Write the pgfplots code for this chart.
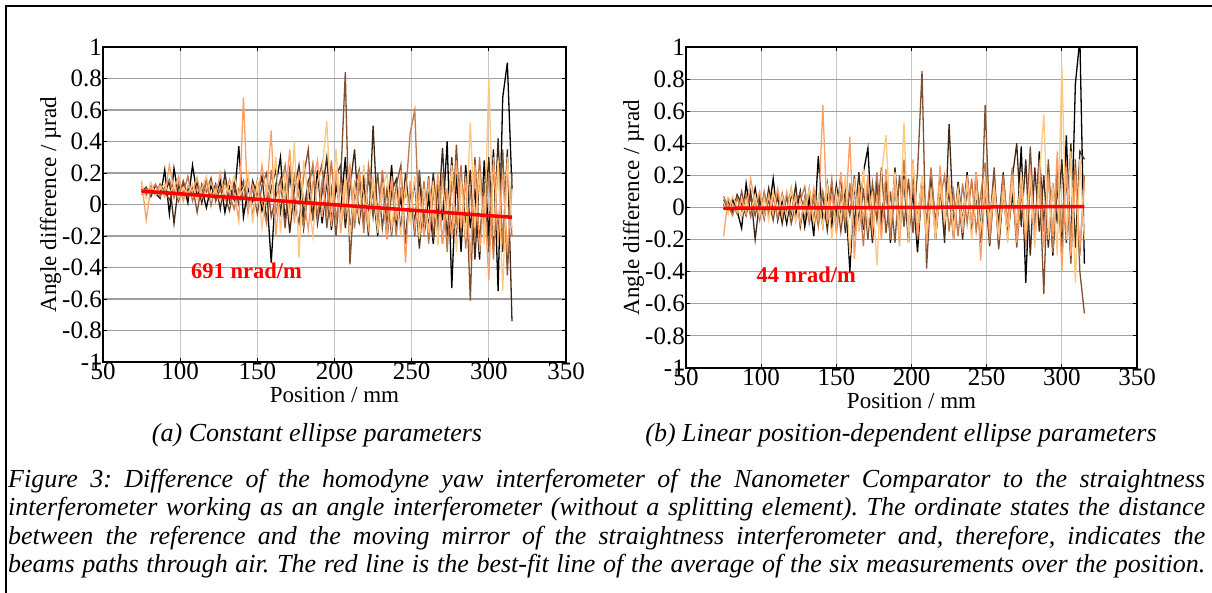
\documentclass[border=0pt]{standalone}
\usepackage{fontspec}
\setmainfont{Liberation Serif}
\usepackage{pgfplots}
\pgfplotsset{compat=1.18}
\usepackage{pgfplotstable}

\definecolor{cA}{rgb}{0,0,0}
\definecolor{cB}{rgb}{0.25,0.156,0.100}
\definecolor{cC}{rgb}{0.50,0.3125,0.199}
\definecolor{cD}{rgb}{0.75,0.469,0.2985}
\definecolor{cE}{rgb}{1,0.625,0.398}
\definecolor{cF}{rgb}{1,0.781,0.4975}

% panel (a): constant ellipse parameters
\pgfplotstableread{
x a b c d e f
75 0.10 0.08 0.12 0.06 0.15 0.13
78 0.06 0.11 0.07 0.10 -0.10 0.04
81 0.12 0.05 0.10 0.08 0.11 0.14
84 0.07 0.12 0.06 0.13 0.08 0.06
87 0.04 0.09 0.13 0.05 0.12 0.10
90 0.22 0.06 0.08 0.11 0.05 0.13
93 -0.06 0.15 0.03 0.16 0.25 0.07
96 0.23 -0.12 0.10 0.04 0.09 0.12
99 0.05 0.13 0.02 0.14 0.18 0.04
102 0.14 0.03 0.15 0.07 0.02 0.11
105 0.01 0.10 0.05 0.18 0.12 0.06
108 0.25 0.07 0.12 0.02 0.08 0.13
111 0.06 0.14 -0.05 0.11 0.17 0.03
114 0.10 0.01 0.13 0.06 0.04 0.10
117 -0.02 0.16 0.08 0.15 0.10 0.18
120 0.12 0.05 0.17 -0.01 0.14 0.05
123 0.04 0.13 0.02 0.12 0.06 0.09
126 0.15 -0.03 0.10 0.08 0.20 0.02
129 -0.05 0.20 0.05 0.14 0.03 0.11
132 0.11 0.02 -0.04 0.06 0.16 0.08
135 0.03 0.14 0.12 -0.03 0.07 0.18
138 0.37 0.00 0.06 0.10 -0.10 0.05
141 -0.08 0.12 0.15 0.04 0.68 0.10
144 0.10 -0.04 0.02 0.18 -0.05 0.20
147 0.02 0.15 0.10 -0.08 0.12 -0.12
150 0.15 0.05 -0.06 0.14 0.02 0.16
153 -0.04 0.18 0.12 0.02 0.25 -0.15
156 0.08 -0.10 0.20 -0.12 0.06 0.12
159 -0.37 0.10 -0.08 0.22 0.47 0.04
162 0.12 0.22 0.05 -0.06 -0.20 0.30
165 0.30 -0.05 0.16 0.10 0.12 -0.18
168 -0.12 0.14 -0.15 0.25 0.03 0.20
171 0.20 -0.18 0.22 -0.04 0.35 -0.10
174 -0.05 0.10 0.02 0.18 -0.12 0.40
177 0.16 0.25 -0.12 0.05 0.20 -0.34
180 -0.15 -0.06 0.18 -0.14 0.05 0.28
183 0.10 0.15 0.35 0.08 -0.16 0.05
186 -0.08 0.22 -0.10 0.26 0.14 -0.20
189 0.22 -0.12 0.14 -0.08 0.28 0.15
192 -0.12 0.08 0.26 0.15 -0.08 0.22
195 0.15 0.30 -0.15 -0.05 0.18 0.53
198 -0.16 -0.10 0.10 0.28 -0.14 -0.05
201 0.12 0.18 -0.20 -0.10 0.22 0.35
204 -0.04 0.25 0.15 0.12 -0.18 -0.12
207 0.30 -0.15 0.84 -0.06 0.10 0.18
210 -0.18 0.10 -0.38 0.20 0.25 -0.20
213 0.12 0.35 0.10 -0.15 -0.10 0.12
216 -0.10 -0.12 0.22 0.14 0.20 -0.08
219 0.20 0.15 -0.12 -0.18 0.06 0.25
222 -0.06 -0.20 0.18 0.25 -0.15 -0.10
225 0.08 0.50 -0.08 0.05 0.16 0.15
228 -0.20 -0.10 0.20 -0.12 -0.05 -0.18
231 0.14 0.12 -0.15 0.22 0.12 0.10
234 -0.10 -0.22 0.10 -0.08 -0.22 0.20
237 0.25 0.08 -0.20 0.15 0.18 -0.15
240 -0.15 0.16 0.12 -0.20 -0.10 0.08
243 0.05 -0.18 0.25 0.10 0.22 -0.20
246 -0.22 0.20 -0.25 0.05 -0.37 0.12
249 0.10 -0.08 0.10 0.45 0.15 -0.10
252 -0.12 0.15 -0.20 0.60 -0.15 0.18
255 0.18 -0.28 0.22 -0.20 0.08 -0.22
258 -0.20 0.10 -0.12 0.15 -0.20 0.10
261 0.05 -0.15 0.18 -0.25 0.16 -0.18
264 -0.25 0.20 -0.22 0.08 -0.12 0.15
267 0.12 -0.10 0.15 -0.15 0.20 -0.26
270 -0.10 0.36 -0.25 0.20 -0.25 0.12
273 0.40 -0.20 0.10 -0.30 0.10 -0.10
276 -0.53 0.30 -0.18 0.15 -0.22 0.25
279 0.20 -0.25 0.38 -0.10 0.28 -0.30
282 -0.30 0.15 -0.20 0.25 -0.15 0.15
285 0.25 -0.12 0.20 -0.28 0.18 -0.22
288 -0.15 0.22 -0.61 0.10 -0.35 0.52
291 0.10 -0.35 0.30 -0.20 0.25 -0.15
294 -0.35 0.20 -0.25 0.30 -0.30 0.20
297 0.28 -0.10 0.15 -0.15 0.05 -0.25
300 -0.20 0.30 -0.30 0.20 -0.48 0.80
303 0.35 -0.25 0.25 -0.35 0.30 -0.20
306 -0.55 0.42 -0.20 0.30 -0.25 0.28
309 0.68 -0.30 0.35 -0.25 0.20 -0.55
312 0.90 0.35 -0.45 0.25 -0.30 0.30
315 0.10 -0.74 0.20 -0.20 0.10 -0.15
}\tabA

% panel (b): linear position-dependent ellipse parameters
\pgfplotstableread{
x a b c d e f
75 0.02 -0.01 0.05 0.07 -0.18 0.03
78 -0.03 0.04 -0.02 0.01 0.06 -0.04
81 0.05 -0.03 0.03 -0.05 0.02 0.07
84 -0.02 0.08 -0.04 0.06 -0.03 0.01
87 -0.13 0.02 0.10 -0.02 0.05 -0.06
90 0.15 -0.05 -0.03 0.08 -0.04 0.04
93 -0.04 0.10 0.06 -0.06 0.18 -0.02
96 0.12 -0.20 -0.05 0.04 0.02 0.08
99 -0.06 0.05 0.08 -0.08 0.10 -0.05
102 0.08 -0.07 -0.02 0.10 -0.06 0.06
105 -0.03 0.12 0.04 -0.04 0.08 -0.08
108 0.18 -0.02 -0.08 0.06 -0.03 0.10
111 -0.08 0.06 0.10 -0.07 0.12 -0.03
114 0.05 -0.10 -0.04 0.09 -0.05 0.07
117 -0.10 0.08 0.07 -0.03 0.10 -0.06
120 0.09 -0.04 -0.10 0.12 -0.02 0.11
123 -0.05 0.14 0.03 -0.08 0.07 -0.09
126 0.10 -0.12 0.09 0.04 -0.10 0.05
129 -0.12 0.06 -0.06 0.13 0.05 -0.04
132 0.06 -0.08 0.12 -0.10 -0.06 0.12
135 -0.18 0.10 -0.08 0.05 0.12 -0.10
138 0.32 -0.06 0.05 -0.12 -0.08 0.07
141 -0.10 0.08 -0.12 0.10 0.64 -0.12
144 0.08 -0.14 0.15 -0.05 -0.10 0.15
147 -0.12 0.12 -0.06 0.18 0.08 -0.20
150 0.14 -0.04 0.10 -0.16 -0.14 0.10
153 -0.06 0.20 -0.15 0.08 0.22 -0.08
156 0.10 -0.16 0.08 -0.10 -0.06 0.20
159 -0.40 0.12 -0.05 0.15 0.44 -0.30
162 0.15 -0.10 0.20 -0.18 -0.32 0.18
165 -0.10 0.22 -0.14 0.08 0.14 -0.15
168 0.22 -0.14 0.12 -0.24 -0.08 0.25
171 0.37 0.10 -0.20 0.16 0.20 -0.12
174 -0.18 -0.22 0.15 -0.06 -0.15 0.10
177 0.12 0.18 -0.08 0.22 0.08 -0.36
180 -0.10 -0.06 0.25 -0.15 -0.20 0.20
183 0.18 0.14 -0.16 0.10 0.24 0.45
186 -0.22 -0.18 0.10 -0.20 -0.10 -0.10
189 0.15 0.25 -0.22 0.18 0.12 0.22
192 -0.08 -0.10 0.20 -0.10 -0.24 -0.18
195 0.20 0.16 -0.12 0.30 0.18 0.53
198 -0.16 -0.22 0.18 -0.14 -0.12 -0.22
201 0.10 0.20 -0.16 0.15 0.30 0.28
204 -0.28 -0.08 0.22 -0.20 -0.18 -0.10
207 0.15 0.18 0.85 0.10 0.12 0.20
210 -0.12 -0.14 -0.38 -0.08 -0.22 -0.16
213 0.20 0.22 0.12 0.25 0.10 0.10
216 -0.20 -0.10 -0.18 -0.12 -0.14 -0.20
219 0.12 0.16 0.20 0.05 0.26 0.14
222 -0.08 -0.22 -0.10 0.20 -0.10 -0.08
225 0.10 0.52 0.15 -0.15 0.15 0.20
228 -0.18 -0.12 -0.20 0.10 -0.20 -0.14
231 0.16 0.10 0.12 -0.18 0.10 0.12
234 -0.10 -0.20 -0.15 0.15 -0.16 -0.10
237 0.22 0.14 0.18 -0.10 0.20 0.16
240 -0.14 -0.16 -0.12 0.18 -0.10 -0.20
243 0.08 0.20 0.22 -0.15 0.22 0.10
246 -0.20 -0.12 -0.22 0.08 -0.33 -0.14
249 0.14 0.10 0.64 0.28 0.12 0.18
252 -0.12 -0.24 -0.10 -0.22 -0.15 -0.08
255 0.18 0.15 0.25 0.12 0.10 0.14
258 -0.24 -0.10 -0.26 -0.15 -0.20 -0.18
261 0.10 0.22 0.12 0.20 0.14 0.10
264 -0.18 -0.15 -0.20 -0.10 -0.12 -0.22
267 0.08 0.18 0.15 0.25 0.20 0.16
270 -0.15 0.40 -0.25 -0.18 -0.22 -0.10
273 0.38 -0.12 0.10 0.20 0.12 0.22
276 -0.47 0.30 -0.18 -0.25 -0.20 -0.15
279 0.22 -0.30 0.38 0.15 0.25 0.20
282 -0.20 0.25 -0.15 -0.20 -0.18 -0.25
285 0.35 -0.15 0.20 0.30 0.15 0.18
288 -0.12 0.20 -0.54 -0.15 -0.25 0.58
291 0.25 -0.25 0.30 0.22 0.20 -0.20
294 -0.30 0.15 -0.20 -0.28 -0.18 0.15
297 0.15 -0.10 0.25 0.18 0.35 -0.30
300 -0.25 0.30 -0.30 -0.15 -0.40 0.88
303 0.45 -0.22 0.20 0.28 0.25 -0.20
306 -0.30 0.40 -0.35 -0.20 -0.30 0.35
309 0.77 -0.25 0.30 0.25 0.20 -0.47
312 1.05 0.35 -0.40 -0.30 -0.25 0.30
315 -0.35 0.30 -0.66 0.20 0.15 -0.20
}\tabB

\pgfplotsset{
  panel/.style={
    scale only axis,
    xmin=50, xmax=350, ymin=-1, ymax=1,
    xtick={50,100,150,200,250,300,350},
    ytick={-1,-0.8,-0.6,-0.4,-0.2,0,0.2,0.4,0.6,0.8,1},
    yticklabels={-1,-0.8,-0.6,-0.4,-0.2,0,0.2,0.4,0.6,0.8,1},
    xticklabels={50,100,150,200,250,300,350},
    tick align=inside, major tick length=4pt,
    tick style={black, line width=1pt},
    axis line style={line width=1.4pt},
    grid=major,
    major x grid style={gray!45, line width=1.3pt},
    major y grid style={gray!75, line width=1.1pt},
    tick label style={font=\fontsize{25}{25}\selectfont},
    yticklabel style={inner sep=1pt},
    xticklabel style={inner sep=0.5pt},
    label style={font=\fontsize{23}{23}\selectfont},
    xlabel={Position / mm},
    ylabel={Angle difference / µrad},
    xlabel style={at={(axis description cs:0.5,0)}, anchor=base, yshift=-40pt},
    ylabel style={inner sep=0pt},
    every axis plot/.append style={line width=1.3pt},
  },
}

\begin{document}
\begin{tikzpicture}
\useasboundingbox (0,0) rectangle (1212pt,-592pt);
\draw[line width=2.2pt] (1213pt,-6pt) -- (6pt,-6pt) -- (6pt,-593pt);

\begin{axis}[panel, at={(103pt,-362pt)}, anchor=south west,
  width=463pt, height=315pt]
\addplot[cA] table[x=x,y=a]{\tabA};
\addplot[cB] table[x=x,y=b]{\tabA};
\addplot[cC] table[x=x,y=c]{\tabA};
\addplot[cD] table[x=x,y=d]{\tabA};
\addplot[cE] table[x=x,y=e]{\tabA};
\addplot[cF] table[x=x,y=f]{\tabA};
\addplot[red, line width=3.5pt] coordinates {(75,0.085) (315,-0.081)};
\node[red, font=\fontsize{22.5}{22.5}\selectfont\bfseries] at (axis cs:143,-0.42) {691 nrad/m};
\end{axis}

\begin{axis}[panel, at={(686pt,-368pt)}, anchor=south west,
  width=451pt, height=321pt]
\addplot[cA] table[x=x,y=a]{\tabB};
\addplot[cB] table[x=x,y=b]{\tabB};
\addplot[cC] table[x=x,y=c]{\tabB};
\addplot[cD] table[x=x,y=d]{\tabB};
\addplot[cE] table[x=x,y=e]{\tabB};
\addplot[cF] table[x=x,y=f]{\tabB};
\addplot[red, line width=3.5pt] coordinates {(75,-0.005) (315,0.006)};
\node[red, font=\fontsize{22.5}{22.5}\selectfont\bfseries] at (axis cs:130,-0.42) {44 nrad/m};
\end{axis}

\begin{scope}[font=\fontsize{26}{26}\selectfont\itshape\frenchspacing]
\node[anchor=base] at (317pt,-441pt) {(a) Constant ellipse parameters};
\node[anchor=base] at (901pt,-441pt) {(b) Linear position-dependent ellipse parameters};
\node[anchor=base west, inner sep=0pt] at (8pt,-487pt) {\makebox[1197pt][s]{Figure 3: Difference of the homodyne yaw interferometer of the Nanometer Comparator to the straightness}};
\node[anchor=base west, inner sep=0pt] at (8pt,-515pt) {\makebox[1197pt][s]{interferometer working as an angle interferometer (without a splitting element). The ordinate states the distance}};
\node[anchor=base west, inner sep=0pt] at (8pt,-544pt) {\makebox[1197pt][s]{between the reference and the moving mirror of the straightness interferometer and, therefore, indicates the}};
\node[anchor=base west, inner sep=0pt] at (8pt,-572pt) {\makebox[1197pt][s]{beams paths through air. The red line is the best-fit line of the average of the six measurements over the position.}};
\end{scope}
\end{tikzpicture}
\end{document}
